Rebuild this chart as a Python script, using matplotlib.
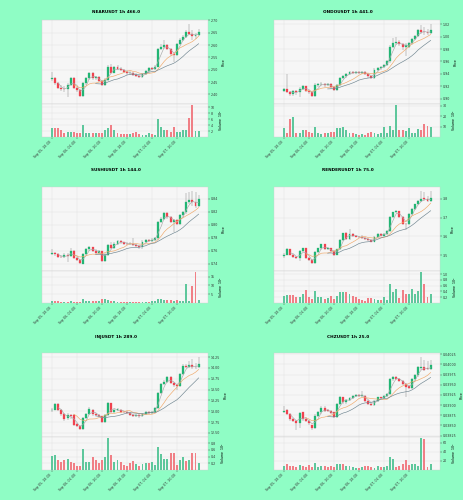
import matplotlib
matplotlib.use('Agg')
import matplotlib.pyplot as plt
import numpy as np
import pandas as pd
from matplotlib.ticker import FormatStrFormatter, MultipleLocator

# ---------------- data ----------------
tick_labels = ['Sep 05, 18:00', 'Sep 06, 02:00', 'Sep 06, 10:00',
               'Sep 06, 18:00', 'Sep 07, 02:00', 'Sep 07, 10:00']
tick_index = [0, 8, 16, 24, 32, 40]
mav_windows = (3, 8, 15)

near_open = [2.464, 2.467, 2.445, 2.425, 2.422, 2.420, 2.440, 2.468, 2.425, 2.418, 2.395, 2.445, 2.465, 2.485, 2.465, 2.470, 2.455, 2.440, 2.460, 2.512, 2.488, 2.510, 2.505, 2.500, 2.492, 2.485, 2.488, 2.478, 2.474, 2.470, 2.482, 2.495, 2.508, 2.502, 2.512, 2.585, 2.592, 2.600, 2.585, 2.562, 2.560, 2.605, 2.622, 2.633, 2.652, 2.645, 2.636, 2.642]
near_close = [2.467, 2.445, 2.425, 2.422, 2.420, 2.440, 2.468, 2.425, 2.418, 2.395, 2.445, 2.465, 2.485, 2.465, 2.470, 2.455, 2.440, 2.460, 2.512, 2.488, 2.510, 2.505, 2.500, 2.492, 2.485, 2.488, 2.478, 2.474, 2.470, 2.482, 2.495, 2.508, 2.502, 2.512, 2.585, 2.592, 2.600, 2.585, 2.562, 2.560, 2.605, 2.622, 2.633, 2.652, 2.645, 2.636, 2.642, 2.655]
near_high = [2.492, 2.470, 2.450, 2.440, 2.435, 2.445, 2.472, 2.470, 2.430, 2.420, 2.450, 2.470, 2.490, 2.490, 2.475, 2.475, 2.460, 2.465, 2.520, 2.522, 2.515, 2.520, 2.510, 2.505, 2.500, 2.495, 2.490, 2.485, 2.480, 2.485, 2.500, 2.512, 2.512, 2.518, 2.590, 2.605, 2.620, 2.605, 2.590, 2.570, 2.610, 2.630, 2.640, 2.660, 2.687, 2.660, 2.650, 2.665]
near_low = [2.455, 2.440, 2.420, 2.415, 2.410, 2.388, 2.435, 2.420, 2.410, 2.390, 2.390, 2.440, 2.460, 2.460, 2.460, 2.450, 2.435, 2.435, 2.455, 2.485, 2.485, 2.500, 2.495, 2.488, 2.480, 2.480, 2.475, 2.470, 2.465, 2.468, 2.480, 2.490, 2.498, 2.500, 2.510, 2.580, 2.585, 2.580, 2.555, 2.530, 2.555, 2.600, 2.615, 2.630, 2.640, 2.620, 2.625, 2.638]
near_vol = [3.1, 3.1, 3.1, 2.2, 1.4, 1.7, 1.7, 1.7, 1.4, 1.5, 3.9, 1.5, 1.5, 1.5, 1.4, 1.4, 1.4, 2.5, 3.1, 3.9, 2.5, 1.2, 0.9, 0.9, 0.9, 0.9, 1.2, 1.7, 0.9, 0.7, 0.7, 1.5, 0.9, 0.7, 6.0, 3.3, 2.2, 2.5, 1.6, 3.3, 1.6, 1.6, 2.5, 2.3, 6.5, 10.8, 2.0, 2.0]

ondo_open = [0.912, 0.915, 0.911, 0.907, 0.912, 0.910, 0.916, 0.920, 0.913, 0.911, 0.904, 0.922, 0.923, 0.924, 0.922, 0.924, 0.918, 0.914, 0.922, 0.933, 0.936, 0.940, 0.943, 0.942, 0.943, 0.942, 0.943, 0.940, 0.936, 0.933, 0.947, 0.949, 0.951, 0.954, 0.960, 0.984, 0.989, 0.992, 0.988, 0.983, 0.984, 0.989, 0.996, 1.001, 1.011, 1.008, 1.007, 1.006]
ondo_close = [0.915, 0.911, 0.907, 0.912, 0.910, 0.916, 0.920, 0.913, 0.911, 0.905, 0.922, 0.923, 0.924, 0.922, 0.924, 0.918, 0.914, 0.922, 0.933, 0.936, 0.940, 0.943, 0.942, 0.943, 0.942, 0.943, 0.940, 0.936, 0.934, 0.947, 0.949, 0.951, 0.954, 0.960, 0.984, 0.989, 0.992, 0.988, 0.983, 0.986, 0.989, 0.996, 1.001, 1.011, 1.008, 1.007, 1.006, 1.010]
ondo_high = [0.917, 0.940, 0.913, 0.914, 0.914, 0.918, 0.922, 0.921, 0.914, 0.912, 0.925, 0.925, 0.927, 0.926, 0.926, 0.925, 0.919, 0.924, 0.935, 0.938, 0.942, 0.945, 0.945, 0.945, 0.944, 0.945, 0.944, 0.941, 0.937, 0.949, 0.951, 0.953, 0.956, 0.962, 0.986, 0.998, 1.000, 0.994, 0.990, 0.990, 0.991, 0.998, 1.003, 1.013, 1.019, 1.015, 1.012, 1.021]
ondo_low = [0.910, 0.909, 0.905, 0.905, 0.906, 0.903, 0.914, 0.911, 0.908, 0.902, 0.903, 0.918, 0.920, 0.919, 0.920, 0.916, 0.912, 0.912, 0.920, 0.931, 0.934, 0.938, 0.940, 0.940, 0.940, 0.940, 0.938, 0.934, 0.932, 0.932, 0.945, 0.947, 0.949, 0.952, 0.958, 0.982, 0.987, 0.985, 0.978, 0.969, 0.982, 0.987, 0.994, 0.999, 1.005, 1.003, 1.003, 1.004]
ondo_vol = [8.7, 3.7, 17.7, 19.7, 3.7, 4.3, 7.0, 7.0, 5.3, 3.7, 9.7, 3.7, 3.0, 4.3, 4.3, 5.3, 5.3, 8.7, 8.7, 9.3, 7.0, 4.3, 4.3, 3.0, 2.3, 3.0, 2.3, 4.3, 5.3, 4.3, 3.0, 3.7, 9.7, 4.3, 10.3, 7.0, 31.0, 7.0, 6.3, 6.0, 8.7, 4.3, 4.3, 7.7, 6.3, 12.7, 10.3, 9.3]

sushi_open = [0.755, 0.757, 0.755, 0.751, 0.750, 0.754, 0.752, 0.760, 0.749, 0.746, 0.740, 0.755, 0.762, 0.765, 0.760, 0.757, 0.759, 0.744, 0.754, 0.769, 0.764, 0.771, 0.775, 0.773, 0.771, 0.770, 0.771, 0.769, 0.767, 0.765, 0.774, 0.776, 0.775, 0.777, 0.779, 0.804, 0.809, 0.818, 0.811, 0.804, 0.807, 0.801, 0.814, 0.819, 0.834, 0.838, 0.835, 0.829]
sushi_close = [0.757, 0.755, 0.750, 0.750, 0.754, 0.752, 0.760, 0.749, 0.746, 0.741, 0.755, 0.762, 0.765, 0.760, 0.757, 0.759, 0.744, 0.754, 0.769, 0.764, 0.771, 0.775, 0.773, 0.771, 0.770, 0.771, 0.769, 0.767, 0.765, 0.774, 0.776, 0.775, 0.777, 0.779, 0.804, 0.809, 0.818, 0.811, 0.804, 0.807, 0.801, 0.814, 0.819, 0.834, 0.838, 0.835, 0.829, 0.839]
sushi_high = [0.762, 0.758, 0.756, 0.753, 0.756, 0.756, 0.764, 0.761, 0.750, 0.747, 0.757, 0.764, 0.767, 0.766, 0.762, 0.761, 0.760, 0.756, 0.771, 0.774, 0.773, 0.777, 0.777, 0.774, 0.773, 0.773, 0.779, 0.770, 0.768, 0.776, 0.778, 0.778, 0.779, 0.781, 0.806, 0.811, 0.820, 0.820, 0.813, 0.809, 0.809, 0.816, 0.821, 0.848, 0.850, 0.852, 0.850, 0.846]
sushi_low = [0.753, 0.752, 0.748, 0.748, 0.748, 0.742, 0.750, 0.747, 0.744, 0.739, 0.739, 0.753, 0.760, 0.758, 0.755, 0.755, 0.742, 0.743, 0.752, 0.762, 0.762, 0.769, 0.771, 0.769, 0.768, 0.768, 0.767, 0.765, 0.763, 0.763, 0.772, 0.773, 0.773, 0.775, 0.777, 0.802, 0.807, 0.809, 0.802, 0.789, 0.799, 0.799, 0.812, 0.817, 0.832, 0.829, 0.826, 0.827]
sushi_vol = [1.2, 1.0, 1.0, 0.8, 0.8, 0.8, 1.0, 0.8, 0.8, 0.8, 2.0, 1.0, 1.0, 1.0, 1.0, 1.2, 2.0, 2.0, 1.8, 1.2, 1.0, 0.8, 0.8, 0.6, 0.6, 0.6, 0.8, 0.8, 0.6, 0.6, 0.8, 0.8, 1.0, 1.2, 2.5, 2.5, 1.5, 1.8, 1.5, 1.2, 1.8, 1.0, 1.0, 11.0, 1.2, 9.6, 17.7, 1.8]

render_open = [3.494, 3.504, 3.531, 3.504, 3.489, 3.485, 3.522, 3.536, 3.485, 3.476, 3.458, 3.518, 3.536, 3.558, 3.531, 3.536, 3.522, 3.504, 3.531, 3.580, 3.617, 3.586, 3.613, 3.604, 3.599, 3.595, 3.591, 3.586, 3.580, 3.573, 3.599, 3.613, 3.604, 3.613, 3.628, 3.705, 3.727, 3.732, 3.705, 3.668, 3.665, 3.719, 3.745, 3.769, 3.787, 3.805, 3.796, 3.787]
render_close = [3.504, 3.531, 3.504, 3.489, 3.485, 3.522, 3.536, 3.485, 3.476, 3.458, 3.518, 3.536, 3.558, 3.531, 3.536, 3.522, 3.504, 3.531, 3.580, 3.617, 3.586, 3.613, 3.604, 3.599, 3.595, 3.591, 3.586, 3.580, 3.573, 3.599, 3.613, 3.604, 3.613, 3.628, 3.705, 3.727, 3.732, 3.705, 3.668, 3.665, 3.719, 3.745, 3.769, 3.787, 3.800, 3.796, 3.787, 3.805]
render_high = [3.510, 3.536, 3.534, 3.508, 3.495, 3.526, 3.540, 3.538, 3.490, 3.480, 3.522, 3.540, 3.562, 3.560, 3.540, 3.540, 3.526, 3.535, 3.584, 3.620, 3.625, 3.637, 3.616, 3.608, 3.603, 3.610, 3.595, 3.590, 3.584, 3.603, 3.617, 3.617, 3.617, 3.632, 3.710, 3.731, 3.740, 3.736, 3.709, 3.672, 3.723, 3.749, 3.773, 3.791, 3.842, 3.835, 3.815, 3.840]
render_low = [3.488, 3.500, 3.500, 3.485, 3.480, 3.470, 3.518, 3.480, 3.470, 3.452, 3.455, 3.512, 3.530, 3.528, 3.526, 3.518, 3.498, 3.500, 3.528, 3.576, 3.582, 3.582, 3.600, 3.595, 3.590, 3.588, 3.582, 3.576, 3.568, 3.570, 3.595, 3.600, 3.600, 3.609, 3.625, 3.700, 3.722, 3.700, 3.662, 3.632, 3.660, 3.715, 3.740, 3.764, 3.783, 3.790, 3.782, 3.783]
render_vol = [0.24, 0.27, 0.27, 0.28, 0.21, 0.21, 0.30, 0.44, 0.22, 0.15, 0.40, 0.20, 0.22, 0.15, 0.19, 0.25, 0.15, 0.26, 0.38, 0.38, 0.38, 0.30, 0.26, 0.20, 0.15, 0.10, 0.08, 0.19, 0.19, 0.15, 0.12, 0.10, 0.20, 0.10, 0.67, 0.38, 0.48, 0.18, 0.44, 0.32, 0.30, 0.50, 0.33, 0.43, 1.08, 0.67, 0.20, 0.30]

inj_open = [13.02, 13.04, 13.17, 13.03, 12.93, 12.84, 12.92, 12.92, 12.70, 12.67, 12.59, 12.84, 12.93, 13.03, 12.93, 12.92, 12.88, 12.76, 12.92, 13.19, 12.98, 13.03, 13.03, 12.99, 12.98, 12.96, 12.92, 12.88, 12.92, 12.88, 12.93, 12.98, 12.96, 12.99, 13.07, 13.42, 13.62, 13.68, 13.79, 13.66, 13.60, 13.58, 13.85, 14.05, 14.02, 14.07, 14.03, 14.03]
inj_close = [13.04, 13.17, 13.03, 12.93, 12.82, 12.92, 12.88, 12.68, 12.67, 12.59, 12.84, 12.93, 13.06, 12.93, 12.92, 12.88, 12.76, 12.92, 13.19, 12.98, 13.03, 13.06, 12.99, 12.98, 12.96, 12.92, 12.88, 12.92, 12.88, 12.93, 12.98, 12.96, 12.99, 13.07, 13.42, 13.62, 13.68, 13.79, 13.66, 13.60, 13.58, 13.85, 14.05, 14.02, 14.07, 14.02, 14.02, 14.10]
inj_high = [13.07, 13.20, 13.18, 13.05, 12.95, 12.95, 12.94, 12.93, 12.72, 12.68, 12.86, 12.96, 13.09, 13.06, 12.95, 12.94, 12.90, 12.94, 13.22, 13.20, 13.06, 13.08, 13.05, 13.01, 13.00, 12.98, 12.94, 12.94, 12.94, 12.95, 13.00, 13.00, 13.01, 13.09, 13.45, 13.65, 13.72, 13.82, 13.81, 13.68, 13.62, 13.88, 14.08, 14.10, 14.15, 14.20, 14.12, 14.26]
inj_low = [12.98, 13.02, 13.00, 12.90, 12.78, 12.80, 12.82, 12.66, 12.63, 12.56, 12.57, 12.82, 12.91, 12.90, 12.89, 12.86, 12.73, 12.74, 12.90, 12.95, 12.96, 13.01, 12.97, 12.96, 12.94, 12.90, 12.86, 12.86, 12.85, 12.86, 12.91, 12.94, 12.94, 12.97, 13.05, 13.40, 13.60, 13.66, 13.63, 13.55, 13.50, 13.56, 13.83, 14.00, 14.00, 13.98, 13.98, 14.01]
inj_vol = [0.43, 0.45, 0.30, 0.25, 0.30, 0.33, 0.25, 0.22, 0.12, 0.12, 0.63, 0.25, 0.25, 0.40, 0.30, 0.20, 0.30, 0.38, 0.96, 0.45, 0.25, 0.30, 0.25, 0.15, 0.12, 0.20, 0.28, 0.18, 0.12, 0.18, 0.20, 0.20, 0.25, 0.15, 0.70, 0.48, 0.32, 0.32, 0.50, 0.50, 0.15, 0.30, 0.38, 0.28, 0.30, 0.52, 0.52, 0.22]

chz_open = [0.03883, 0.03888, 0.03878, 0.03866, 0.03862, 0.03856, 0.03882, 0.03866, 0.03862, 0.03850, 0.03845, 0.03874, 0.03882, 0.03894, 0.03888, 0.03885, 0.03882, 0.03872, 0.03903, 0.03919, 0.03907, 0.03912, 0.03917, 0.03923, 0.03925, 0.03923, 0.03923, 0.03911, 0.03904, 0.03901, 0.03911, 0.03919, 0.03917, 0.03923, 0.03927, 0.03963, 0.03969, 0.03965, 0.03960, 0.03952, 0.03947, 0.03943, 0.03963, 0.03973, 0.03990, 0.03993, 0.03991, 0.03989]
chz_close = [0.03886, 0.03878, 0.03866, 0.03862, 0.03856, 0.03880, 0.03866, 0.03862, 0.03856, 0.03845, 0.03874, 0.03882, 0.03894, 0.03886, 0.03885, 0.03880, 0.03872, 0.03903, 0.03919, 0.03907, 0.03912, 0.03917, 0.03923, 0.03925, 0.03923, 0.03925, 0.03911, 0.03904, 0.03901, 0.03911, 0.03919, 0.03917, 0.03923, 0.03927, 0.03963, 0.03969, 0.03965, 0.03960, 0.03952, 0.03944, 0.03943, 0.03963, 0.03973, 0.03993, 0.03993, 0.03987, 0.03989, 0.03999]
chz_high = [0.03898, 0.03890, 0.03880, 0.03868, 0.03864, 0.03883, 0.03884, 0.03868, 0.03864, 0.03852, 0.03877, 0.03885, 0.03897, 0.03897, 0.03890, 0.03887, 0.03884, 0.03906, 0.03922, 0.03921, 0.03914, 0.03919, 0.03925, 0.03928, 0.03927, 0.03935, 0.03925, 0.03913, 0.03906, 0.03913, 0.03921, 0.03921, 0.03925, 0.03929, 0.03966, 0.03972, 0.03971, 0.03967, 0.03962, 0.03954, 0.03949, 0.03966, 0.03976, 0.03996, 0.04019, 0.04012, 0.04008, 0.04010]
chz_low = [0.03880, 0.03875, 0.03862, 0.03858, 0.03840, 0.03845, 0.03862, 0.03858, 0.03852, 0.03838, 0.03842, 0.03870, 0.03879, 0.03883, 0.03882, 0.03877, 0.03868, 0.03869, 0.03900, 0.03904, 0.03904, 0.03910, 0.03914, 0.03920, 0.03920, 0.03920, 0.03908, 0.03900, 0.03897, 0.03898, 0.03908, 0.03914, 0.03914, 0.03920, 0.03924, 0.03960, 0.03962, 0.03957, 0.03949, 0.03920, 0.03940, 0.03940, 0.03960, 0.03970, 0.03986, 0.03984, 0.03986, 0.03986]
chz_vol = [9, 12.6, 9, 9, 6.7, 10, 9, 7, 10, 7, 16, 7, 9, 9, 7, 9, 7, 12.6, 12.6, 14, 9, 9, 7, 5, 5, 7, 9, 9, 7, 5, 9, 7, 7, 9, 29, 24, 7, 9, 12.6, 21, 10, 12.6, 12.6, 9, 70, 68, 6, 12.6]

titles = ['NEARUSDT 1h 466.0', 'ONDOUSDT 1h 441.0', 'SUSHIUSDT 1h 144.0',
          'RENDERUSDT 1h 75.0', 'INJUSDT 1h 289.0', 'CHZUSDT 1h 25.0']
vol_exponents = [5, 5, 5, 6, 5, 6]

# ---------------- style ----------------
BG = '#8ffdc5'
FACE = '#f6f6f6'
UP = '#21b573'
DOWN = '#f0424f'
VUP = '#5ec79c'
VDOWN = '#f07f86'
WICK = '#8a8a8a'
MA_COLORS = ['#a8a8a8', '#f0a868', '#6f8590']
GRID = '#dedede'

price_steps = [0.05, 0.02, 0.02, 0.1, 0.25, 0.00025]
price_fmts = ['%.2f', '%.2f', '%.2f', '%.1f', '%.2f', '%.5f']
vol_steps = [2, 10, 5, 0.2, 0.2, 20]
vol_fmts = ['%d', '%d', '%d', '%.1f', '%.1f', '%d']

series = [
    (near_open, near_high, near_low, near_close, near_vol),
    (ondo_open, ondo_high, ondo_low, ondo_close, ondo_vol),
    (sushi_open, sushi_high, sushi_low, sushi_close, sushi_vol),
    (render_open, render_high, render_low, render_close, render_vol),
    (inj_open, inj_high, inj_low, inj_close, inj_vol),
    (chz_open, chz_high, chz_low, chz_close, chz_vol),
]

W, H = 464, 500
fig = plt.figure(figsize=(W / 100, H / 100), dpi=100, facecolor=BG)

row_top = [20, 187, 353]
row_split = [104, 271, 437]
row_bot = [137, 303, 470]
title_y = [12, 170, 337]
FS = 2.3

for k, (o, h, l, c, v) in enumerate(series):
    row, col = divmod(k, 2)
    x0 = 42 + 232 * col
    w = 166
    axp = fig.add_axes([x0 / W, 1 - row_split[row] / H, w / W,
                        (row_split[row] - row_top[row]) / H])
    axv = fig.add_axes([x0 / W, 1 - row_bot[row] / H, w / W,
                        (row_bot[row] - row_split[row]) / H], sharex=axp)
    o = np.array(o); h = np.array(h); l = np.array(l); c = np.array(c); v = np.array(v)
    n = len(c)
    xs = np.arange(n)
    up = c >= o
    body_col = np.where(up, UP, DOWN)
    vol_col = np.where(up, VUP, VDOWN)
    rng = h.max() - l.min()

    for ax in (axp, axv):
        ax.set_facecolor(FACE)
        ax.grid(True, color=GRID, linewidth=0.3)
        ax.set_axisbelow(True)
        for s in ax.spines.values():
            s.set_color('#d0d0d0')
            s.set_linewidth(0.3)
        ax.yaxis.tick_right()
        ax.yaxis.set_label_position('right')
        ax.tick_params(axis='both', labelsize=FS, length=1.2, width=0.3,
                       pad=1, colors='#333333')

    axp.vlines(xs, l, h, color=WICK, linewidth=0.35, zorder=2)
    heights = np.abs(c - o)
    heights = np.maximum(heights, rng * 0.004)
    axp.bar(xs, heights, bottom=np.minimum(o, c), width=0.62,
            color=body_col, edgecolor=body_col, linewidth=0.2, zorder=3)
    closes = pd.Series(c)
    for win, mc in zip(mav_windows, MA_COLORS):
        axp.plot(xs, closes.rolling(win).mean(), color=mc, linewidth=0.45, zorder=4)

    axp.set_ylim(l.min() - 0.09 * rng, h.max() + 0.05 * rng)
    axp.yaxis.set_major_locator(MultipleLocator(price_steps[k]))
    axp.yaxis.set_major_formatter(FormatStrFormatter(price_fmts[k]))
    axp.set_ylabel('Price', fontsize=FS, labelpad=2)
    axp.set_xlim(-3.2, n + 2)
    axp.set_xticks(tick_index)
    axp.tick_params(axis='x', labelbottom=False)

    axv.bar(xs, v, width=0.62, color=vol_col, zorder=3)
    vtop = v.max() * 1.03
    axv.set_ylim(0, vtop)
    axv.set_yticks(np.arange(vol_steps[k], vtop, vol_steps[k]))
    axv.yaxis.set_major_formatter(FormatStrFormatter(vol_fmts[k]))
    axv.set_ylabel('Volume  $10^{%d}$' % vol_exponents[k], fontsize=FS, labelpad=2)
    axv.set_xticks(tick_index)
    axv.set_xticklabels(tick_labels, rotation=45, ha='right', fontsize=FS)

    fig.text((116 + 232 * col) / W, 1 - title_y[row] / H, titles[k],
             ha='center', va='center', fontsize=3.1, fontweight='bold')

fig.savefig('out.png', dpi=100, facecolor=BG)
